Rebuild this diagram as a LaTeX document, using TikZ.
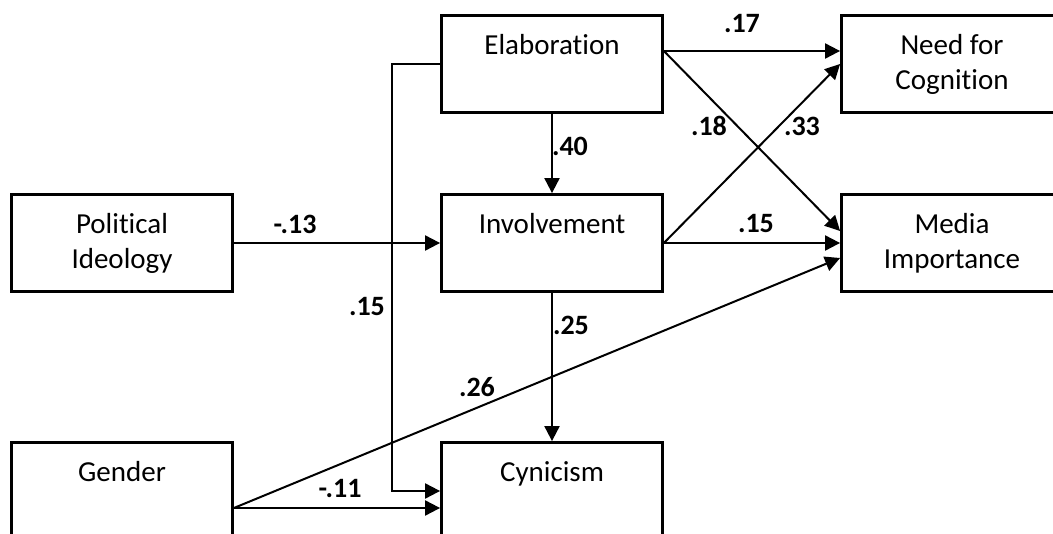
\documentclass[tikz,border=0pt]{standalone}
\usepackage{fontspec}
\setmainfont{Carlito}[Ligatures=NoCommon,RawFeature={-liga;-clig;-dlig}]
\usetikzlibrary{arrows.meta}
\begin{document}
\begin{tikzpicture}[x=1pt,y=-1pt,
  box/.style={draw,line width=2.8pt,minimum width=221pt,minimum height=97pt,inner sep=0pt},
  boxtext/.style={anchor=north,inner sep=0pt,align=center,font=\fontsize{29}{35}\selectfont},
  coef/.style={inner sep=0pt,font=\fontsize{28}{33}\selectfont\bfseries},
  arr/.style={line width=2pt,-{Triangle[length=15pt,width=15pt]}}]
\useasboundingbox (0,0) rectangle (1053,534);
\clip (0,0) rectangle (1053,534);
% boxes
\node[box] (pol)  at (122,243) {};
\node[box] (elab) at (552,64)  {};
\node[box] (inv)  at (552,243) {};
\node[box] (nfc)  at (952,64)  {};
\node[box] (mi)   at (952,243) {};
\node[box] (gen)  at (122,491) {};
\node[box] (cyn)  at (552,491) {};
% box texts
\node[boxtext] (polt)  at ([yshift=-20pt]pol.north)  {Political\\Ideology};
\node[boxtext] (elabt) at ([yshift=-20pt]elab.north) {Elaboration};
\node[boxtext] (invt)  at ([yshift=-20pt]inv.north)  {Involvement};
\node[boxtext] (nfct)  at ([yshift=-20pt]nfc.north)  {Need for\\Cognition};
\node[boxtext] (mit)   at ([yshift=-20pt]mi.north)   {Media\\Importance};
\node[boxtext] (gent)  at ([yshift=-20pt]gen.north)  {Gender};
\node[boxtext] (cynt)  at ([yshift=-20pt]cyn.north)  {Cynicism};
% connectors
\coordinate (bend) at (392,64);
\draw[arr] (pol) -- (inv);
\draw[arr] ([yshift=13pt]elab.east) -- ([yshift=13pt]nfc.west);
\draw[arr] ([yshift=13pt]elab.east) -- ([yshift=12pt]mi.west);
\draw[arr] (inv.east) -- (nfc.west);
\draw[arr] (inv) -- (mi);
\draw[arr] (elab) -- (inv);
\draw[arr] (inv) -- (cyn);
\draw[arr] (elab.west) -- (bend) |- (cyn.west);
\draw[arr] ([yshift=-17pt]gen.east) -- ([yshift=-17pt]cyn.west);
\draw[arr] ([yshift=-17pt]gen.east) -- ([yshift=-15pt]mi.west);
% coefficients
\node[coef] (c1)  at (742,24)  {.17};
\node[coef] (c2)  at (709,126) {.18};
\node[coef] (c3)  at (802,126) {.33};
\node[coef] (c4)  at (570,146) {.40};
\node[coef] (c5)  at (756,224) {.15};
\node[coef] (c6)  at (295,224) {-.13};
\node[coef] (c7)  at (367,307) {.15};
\node[coef] (c8)  at (571,325) {.25};
\node[coef] (c9)  at (477,387) {.26};
\node[coef] (c10) at (340,489) {-.11};
\end{tikzpicture}
\end{document}
